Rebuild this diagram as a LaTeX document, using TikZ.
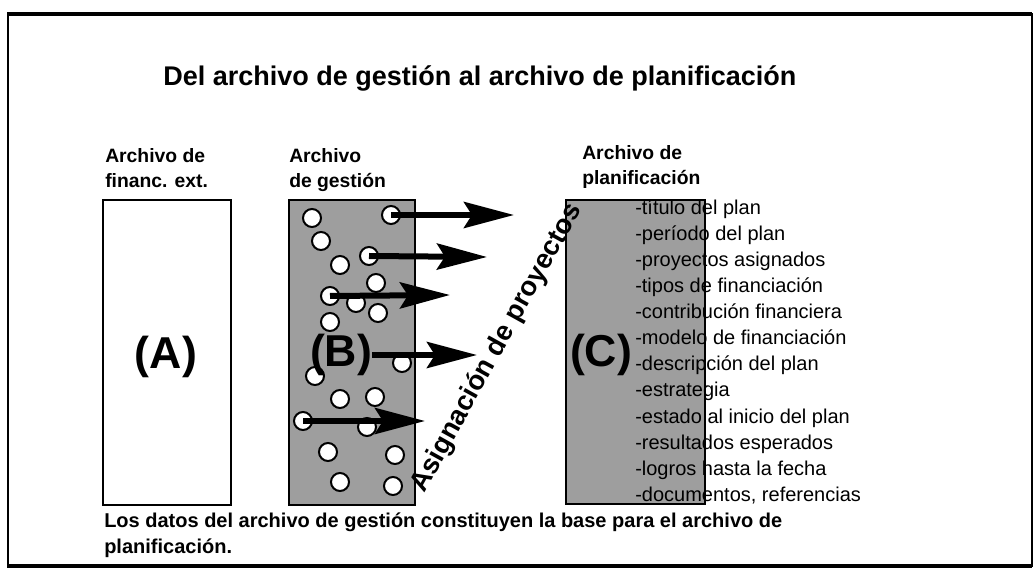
\documentclass[tikz,border=0pt]{standalone}
\usepackage{fontspec}
\setmainfont{Liberation Sans}
\usetikzlibrary{arrows.meta}
\begin{document}
\begin{tikzpicture}[x=0.75pt,y=-0.75pt,
 titletext/.style={font=\bfseries\fontsize{20.25}{24}\selectfont, anchor=base west, inner sep=0},
 lab/.style={font=\bfseries\fontsize{14.5}{17}\selectfont, anchor=base west, inner sep=0},
 itemtext/.style={font=\fontsize{15}{18}\selectfont, anchor=base west, inner sep=0},
 foot/.style={font=\bfseries\fontsize{15}{18}\selectfont, anchor=base west, inner sep=0},
 letter/.style={font=\bfseries\fontsize{33.5}{40}\selectfont, inner sep=0},
 rottext/.style={font=\bfseries\fontsize{20.5}{24}\selectfont, inner sep=0, rotate=61},
 filebox/.style={draw, line width=1.1pt},
 hatched/.style={filebox, fill=black!38},
 dot/.style={circle, draw, fill=white, line width=1.5pt, minimum size=13.5pt, inner sep=0},
 bigarrow/.style={line width=4.5pt, -{Stealth[length=37.5pt,width=19.5pt,inset=6pt]}},
]
\useasboundingbox (0,0) rectangle (1035,573);
% frame
\draw[line width=1.5pt] (8,14) rectangle (1032,566);
\draw[line width=2.6pt] (7,14) -- (1032,14);
\draw[line width=3pt] (7,566) -- (1032,566);

\node[titletext] (title) at (163,86) {Del archivo de gestión al archivo de planificación};

% labels
\node[lab] (la1) at (105,163) {Archivo de};
\node[lab] (la2) at (105,188) {financ. ext.};
\node[lab] (lb1) at (289,163) {Archivo};
\node[lab] (lb2) at (289,188) {de gestión};
\node[lab] (lc1) at (582,160) {Archivo de};
\node[lab] (lc2) at (582,185) {planificación};

% boxes
\draw[filebox] (103,200) rectangle (231,505);
\draw[hatched] (289,200) rectangle (415,505);
\draw[hatched] (566,200) rectangle (705,504);

\node[letter] (A) at (166,357) {(A)};

% circles in B
\foreach \n/\p in {1/{(312,218)},2/{(391,215)},3/{(321,241)},4/{(369,256)},5/{(340,265)},
  6/{(376,283)},7/{(330,296)},8/{(356,303)},9/{(378,313)},10/{(330,322)},11/{(402,363)},
  12/{(315,376)},13/{(340,399)},14/{(375,397)},15/{(303,421)},16/{(367,427)},
  17/{(328,452)},18/{(395,455)},19/{(340,482)},20/{(393,486)}}
  \node[dot] (c\n) at \p {};

\node[letter] (B) at (341,355) {(B)};
\node[letter] (C) at (601,355) {(C)};

% arrow tips
\coordinate (t1) at (514,215);
\coordinate (t2) at (487,257);
\coordinate (t3) at (450,295);
\coordinate (t4) at (477,355);
\coordinate (t5) at (425,421);
\draw[bigarrow] (c2.center) -- (t1);
\draw[bigarrow] (c4.center) -- (t2);
\draw[bigarrow] (c7.center) -- (t3);
\draw[bigarrow] (B.east) -- (t4);
\draw[bigarrow] (c15.center) -- (t5);

\node[rottext] (asg) at (497,348) {Asignación de proyectos};

% list
\foreach \k/\t in {0/-título del plan,1/-período del plan,2/-proyectos asignados,
  3/-tipos de financiación,4/-contribución financiera,5/-modelo de financiación,
  6/-descripción del plan,7/-estrategia,8/-estado al inicio del plan,
  9/-resultados esperados,10/-logros hasta la fecha,11/{-documentos, referencias}}
  \node[itemtext] (item\k) at (635,215+26*\k) {\t};

\node[foot] (f1) at (104,527) {Los datos del archivo de gestión constituyen la base para el archivo de};
\node[foot] (f2) at (104,553) {planificación.};
\end{tikzpicture}
\end{document}
